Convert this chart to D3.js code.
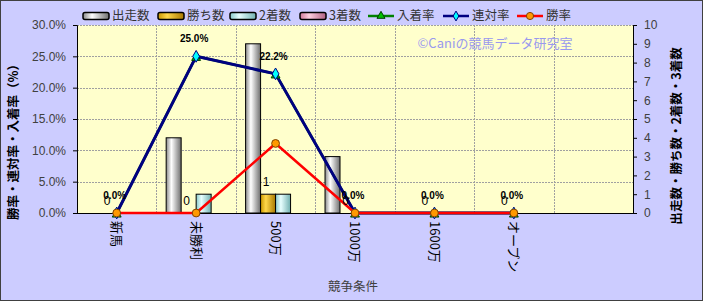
<!DOCTYPE html>
<html><head><meta charset="utf-8">
<script src="https://cdn.jsdelivr.net/npm/d3@7"></script>
<style>
html,body{margin:0;padding:0;background:#fff;}
svg{display:block;}
text{font-family:"Liberation Sans","Noto Sans CJK JP",sans-serif;}
.jp{font-family:"Noto Sans CJK JP","Liberation Sans",sans-serif;}
</style></head>
<body>
<svg id="chart" width="703" height="301"></svg>
<script>
const categories = ["新馬","未勝利","500万","1000万","1600万","オープン",""];
const starts  = [0,4,9,3,0,0,null];
const wins    = [0,0,1,0,0,0,null];
const seconds = [0,1,1,0,0,0,null];
const thirds  = [0,0,0,0,0,0,null];
const placeRate   = [0,25.0,22.2,0,0,0];
const rentaiRate  = [0,25.0,22.2,0,0,0];
const winRate     = [0,0,11.1,0,0,0];
const leftTicks  = [0,5,10,15,20,25,30];
const rightTicks = [0,1,2,3,4,5,6,7,8,9,10];
const barSeries = [
  {name:"出走数", values:starts,  c0:"#8a8a8a", c1:"#ffffff", c2:"#6e6e6e"},
  {name:"勝ち数", values:wins,    c0:"#c89600", c1:"#ffd84a", c2:"#a87800"},
  {name:"2着数", values:seconds, c0:"#88c8c8", c1:"#e8ffff", c2:"#70b0b0"},
  {name:"3着数", values:thirds,  c0:"#d07898", c1:"#ffd0e0", c2:"#b06080"}
];
const lineSeries = [
  {name:"入着率", values:placeRate,  color:"#008000", marker:"triangle", fill:"#00c000", stroke:"#004000", width:2.5},
  {name:"連対率", values:rentaiRate, color:"#000080", marker:"diamond",  fill:"#00ffff", stroke:"#000080", width:3},
  {name:"勝率",   values:winRate,    color:"#ff0000", marker:"circle",   fill:"#ff9900", stroke:"#804000", width:2.5}
];

const W=703,H=301;
const svg=d3.select("#chart");
const defs=svg.append("defs");
barSeries.forEach((s,i)=>{
  const g=defs.append("linearGradient").attr("id","grad"+i).attr("x1","0").attr("x2","1").attr("y1","0").attr("y2","0");
  g.append("stop").attr("offset","0").attr("stop-color",s.c0);
  g.append("stop").attr("offset","0.35").attr("stop-color",s.c1);
  g.append("stop").attr("offset","1").attr("stop-color",s.c2);
});

svg.append("rect").attr("x",0.5).attr("y",0.5).attr("width",W-1).attr("height",H-1)
  .attr("fill","#ccccff").attr("stroke","#404040").attr("stroke-width",1);

const plot={l:77,r:633,t:25,b:213};
svg.append("rect").attr("x",plot.l).attr("y",plot.t).attr("width",plot.r-plot.l).attr("height",plot.b-plot.t).attr("fill","#ffffcc");

const x=d3.scaleBand().domain(categories.map((c,i)=>i)).range([plot.l,plot.r]).padding(0);
const bw=x.bandwidth();
const frac=0.755;
const x1=d3.scaleBand().domain(d3.range(barSeries.length)).range([bw*(1-frac)/2,bw*(1+frac)/2]).padding(0);
const yL=d3.scaleLinear().domain([0,30]).range([plot.b,plot.t]);
const yR=d3.scaleLinear().domain([0,10]).range([plot.b,plot.t]);

// gridlines
svg.append("g").selectAll("line").data(leftTicks.filter(t=>t>0)).join("line")
  .attr("x1",plot.l).attr("x2",plot.r).attr("y1",d=>Math.round(yL(d))+0.5).attr("y2",d=>Math.round(yL(d))+0.5)
  .attr("stroke","#a0a0a0").attr("stroke-dasharray","2,1").attr("stroke-width",1);
svg.append("g").selectAll("line").data(d3.range(1,categories.length)).join("line")
  .attr("x1",d=>Math.round(x(d))+0.5).attr("x2",d=>Math.round(x(d))+0.5).attr("y1",plot.t).attr("y2",plot.b)
  .attr("stroke","#a0a0a0").attr("stroke-dasharray","2,1").attr("stroke-width",1);

// watermark
svg.append("text").attr("class","jp").attr("x",495).attr("y",48).attr("text-anchor","middle")
  .attr("font-size",13).attr("fill","#9999ee").text("©Caniの競馬データ研究室");

// bars
barSeries.forEach((s,si)=>{
  svg.append("g").selectAll("rect").data(s.values.map((v,i)=>({v,i})).filter(d=>d.v!=null && d.v>0)).join("rect")
    .attr("x",d=>x(d.i)+x1(si)).attr("width",x1.bandwidth())
    .attr("y",d=>yR(d.v)).attr("height",d=>plot.b-yR(d.v))
    .attr("fill","url(#grad"+si+")").attr("stroke","#000").attr("stroke-width",1);
});

// axes
const axL=svg.append("g").attr("transform",`translate(${plot.l},0)`)
  .call(d3.axisLeft(yL).tickValues(leftTicks).tickSize(4).tickFormat(d=>d.toFixed(1)+"%"));
axL.select(".domain").attr("stroke","#000");
axL.selectAll("text").attr("font-size",12).attr("fill","#404040").attr("x",-11);
const axR=svg.append("g").attr("transform",`translate(${plot.r},0)`)
  .call(d3.axisRight(yR).tickValues(rightTicks).tickSize(4));
axR.select(".domain").attr("stroke","#000");
axR.selectAll("text").attr("font-size",12).attr("fill","#404040").attr("x",11);
svg.append("line").attr("x1",plot.l).attr("x2",plot.r).attr("y1",plot.b+0.5).attr("y2",plot.b+0.5).attr("stroke","#000");

// x labels
svg.append("g").selectAll("text").data(categories.map((c,i)=>({c,i})).filter(d=>d.c)).join("text")
  .attr("class","jp")
  .attr("transform",d=>`translate(${x(d.i)+bw/2},${plot.b+8}) rotate(90)`)
  .attr("dy","0.35em").attr("font-size",13).attr("fill","#000").text(d=>d.c);

// lines
lineSeries.forEach(s=>{
  const line=d3.line().x((d,i)=>x(i)+bw/2).y(d=>yL(d));
  svg.append("path").datum(s.values).attr("d",line).attr("fill","none")
    .attr("stroke",s.color).attr("stroke-width",s.width).attr("stroke-linejoin","round");
});
function markerPath(type){
  if(type==="triangle") return d3.symbol().type(d3.symbolTriangle).size(34)();
  if(type==="diamond") return d3.symbol().type(d3.symbolDiamond).size(40)();
  return d3.symbol().type(d3.symbolCircle).size(48)();
}
lineSeries.forEach(s=>{
  svg.append("g").selectAll("path").data(s.values).join("path")
    .attr("d",markerPath(s.marker))
    .attr("transform",(d,i)=>`translate(${x(i)+bw/2},${yL(d)+(s.marker==="triangle"?1.5:0)})`)
    .attr("fill",s.fill).attr("stroke",s.stroke).attr("stroke-width",1);
});

// labels: win counts
svg.append("g").selectAll("text").data(wins.map((v,i)=>({v,i})).filter(d=>d.v!=null)).join("text")
  .attr("x",d=>x(d.i)+x1(1)+x1.bandwidth()/2-2).attr("y",d=>yR(d.v)-8)
  .attr("text-anchor","middle").attr("font-size",12).attr("fill","#000").text(d=>d.v);
// labels: rentai rate
svg.append("g").selectAll("text").data(rentaiRate.map((v,i)=>({v,i}))).join("text")
  .attr("x",d=>x(d.i)+bw/2-2).attr("y",d=>yL(d.v)-14)
  .attr("text-anchor","middle").attr("font-size",10).attr("font-weight","bold").attr("fill","#000")
  .text(d=>d.v.toFixed(1)+"%");

// titles
svg.append("text").attr("class","jp").attr("transform",`translate(18,139) rotate(-90)`)
  .attr("text-anchor","middle").attr("font-size",12.5).attr("font-weight","bold").attr("fill","#000")
  .text("勝率・連対率・入着率（%）");
svg.append("text").attr("class","jp").attr("transform",`translate(681,136) rotate(-90)`)
  .attr("text-anchor","middle").attr("font-size",12.5).attr("font-weight","bold").attr("fill","#000")
  .text("出走数・勝ち数・2着数・3着数");
svg.append("text").attr("class","jp").attr("x",353).attr("y",291).attr("text-anchor","middle")
  .attr("font-size",12.5).attr("fill","#404040").text("競争条件");

// legend
const lg=svg.append("g");
const legendItems=[
  ...barSeries.map((s,i)=>({name:s.name,type:"bar",i,x:[83,158,230,300][i]})),
  ...lineSeries.map((s,i)=>({name:s.name,type:"line",s,x:[368,443,517][i]}))
];
legendItems.forEach(d=>{
  const g=lg.append("g").attr("transform",`translate(${d.x},16)`);
  if(d.type==="bar"){
    g.append("rect").attr("x",0).attr("y",-3.5).attr("width",26).attr("height",7).attr("rx",2)
      .attr("fill","url(#grad"+d.i+")").attr("stroke","#000").attr("stroke-width",1.5);
  } else {
    g.append("line").attr("x1",0).attr("x2",26).attr("y1",0).attr("y2",0).attr("stroke",d.s.color).attr("stroke-width",2.5);
    g.append("path").attr("d",d3.symbol().type(d.s.marker==="triangle"?d3.symbolTriangle:d.s.marker==="diamond"?d3.symbolDiamond:d3.symbolCircle).size(d.s.marker==="circle"?40:28)())
      .attr("transform","translate(13,0)").attr("fill",d.s.fill).attr("stroke",d.s.stroke).attr("stroke-width",1);
  }
  g.append("text").attr("class","jp").attr("x",29).attr("y",0).attr("dy","0.35em").attr("font-size",12.5).attr("fill","#333").text(d.name);
});
</script>
</body></html>
